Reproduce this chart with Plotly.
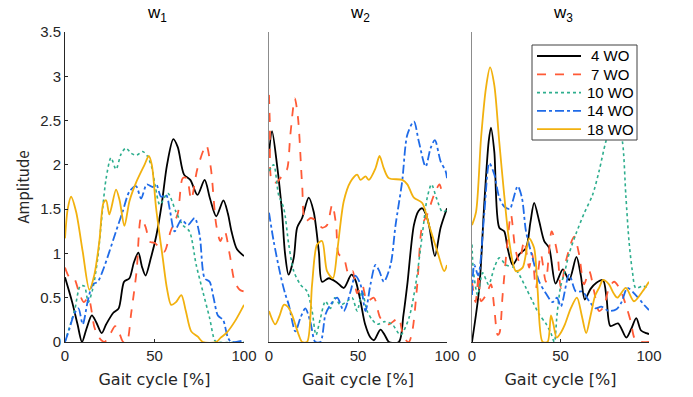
import plotly.graph_objects as go

# ---------------- data (x in % gait cycle, y amplitude) ----------------
SERIES = ["4 WO", "7 WO", "10 WO", "14 WO", "18 WO"]
PANEL_TITLES = ["w<sub>1</sub>", "w<sub>2</sub>", "w<sub>3</sub>"]
X_TICKS = [0, 50, 100]
Y_TICKS = [0, 0.5, 1, 1.5, 2, 2.5, 3, 3.5]

# w1
W1_4WO_X = [0, 4, 7, 9.5, 12, 15, 17.5, 20.5, 23, 27, 30, 33, 36, 38.5, 41, 43, 45, 48, 51, 54, 57, 60.5, 63, 66.5, 70, 74, 78, 81, 84.5, 88.5, 91, 93, 96, 100]
W1_4WO_Y = [0.73, 0.45, 0.2, 0, 0.15, 0.3, 0.22, 0.1, 0.2, 0.33, 0.38, 0.68, 0.72, 0.9, 1.01, 0.85, 0.75, 0.95, 1.2, 1.55, 2.0, 2.29, 2.2, 1.89, 1.83, 1.66, 1.83, 1.62, 1.42, 1.6, 1.45, 1.25, 1.05, 0.97]
W1_7WO_X = [0, 2.5, 5, 8, 10.5, 13, 16.5, 19, 22, 25, 28, 30, 32.5, 34.5, 37, 40, 42.5, 45, 47.5, 50, 53, 55.5, 59, 63, 65.8, 68, 70.5, 74, 78.9, 81.5, 84.5, 86.8, 89.2, 92, 94.8, 97.6, 100]
W1_7WO_Y = [0.84, 0.73, 0.72, 0.55, 0.45, 0.5, 0.16, 0.05, 0, 0.08, 0.18, 0.12, 0, 0, 0.33, 0.8, 1.4, 1.3, 1.13, 1.12, 1.06, 1.02, 1.25, 1.45, 1.85, 1.85, 1.61, 1.96, 2.22, 1.96, 1.32, 1.14, 1.25, 0.99, 0.68, 0.59, 0.57]
W1_10WO_X = [0, 3, 5.5, 8.5, 10.8, 13, 15.5, 18.3, 21, 23, 25.7, 28.5, 31.3, 34, 37, 40, 43.4, 46, 48.5, 50.5, 53, 57.4, 62, 65.8, 69.5, 73.3, 77, 80.8, 83.6, 85, 100]
W1_10WO_Y = [0, 0.2, 0.37, 0.63, 0.63, 0.45, 0.6, 0.95, 1.5, 1.85, 2.08, 1.95, 2.12, 2.19, 2.13, 2.11, 2.15, 2.1, 1.97, 1.75, 1.55, 1.68, 1.47, 1.32, 1.25, 0.87, 0.57, 0.27, 0.02, 0, 0]
W1_14WO_X = [0, 2.5, 5, 7.5, 9.9, 12.7, 15.5, 18.3, 21, 24.8, 28.5, 32.2, 36, 39.7, 42.5, 45.7, 49, 51, 53.7, 56.5, 58.5, 61.2, 65, 68.7, 72.4, 75.2, 78, 80.8, 83, 85.4, 88.3, 91, 93, 100]
W1_14WO_Y = [0, 0.15, 0.31, 0.38, 0.2, 0.46, 0.65, 0.68, 0.8, 1.02, 1.25, 1.47, 1.7, 1.76, 1.62, 1.78, 1.75, 1.78, 1.64, 1.66, 1.5, 1.25, 1.38, 1.32, 1.4, 1.21, 0.72, 0.68, 0.5, 0.3, 0.25, 0.05, 0, 0.02]
W1_18WO_X = [0, 1.5, 3.4, 6.2, 9.9, 13.6, 16.4, 19.2, 21.5, 23, 24.8, 28.5, 30.5, 33.2, 36, 39.7, 44.4, 46.8, 48.5, 50.9, 54.6, 57, 59.3, 62, 65, 67.5, 70.5, 74.2, 77, 84.5, 87, 90.1, 94.8, 100]
W1_18WO_Y = [1.17, 1.5, 1.64, 1.47, 1.02, 0.59, 0.76, 1.14, 1.57, 1.6, 1.44, 1.72, 1.6, 1.31, 1.59, 1.8, 2.0, 2.1, 2.0, 1.51, 0.95, 0.6, 0.42, 0.45, 0.53, 0.35, 0.12, 0.06, 0, 0, 0.05, 0.1, 0.23, 0.42]

# w2
W2_4WO_X = [0, 1.7, 4.5, 7.3, 9, 11, 13.9, 15.8, 18.6, 22.3, 25.1, 28, 29.8, 33.6, 38.3, 42, 46.3, 48.5, 51.4, 54, 57, 59, 62.6, 65, 67.4, 73, 75.5, 77.7, 81.4, 84, 86.1, 88, 89.9, 93.2, 96.4, 100]
W2_4WO_Y = [2.13, 2.38, 2.0, 1.47, 1.0, 0.76, 0.95, 1.29, 1.4, 1.63, 1.47, 1.02, 0.68, 0.72, 0.67, 0.61, 0.76, 0.7, 0.46, 0.2, 0.05, 0.02, 0.14, 0.08, 0, 0, 0.3, 0.65, 1.32, 1.48, 1.51, 1.45, 1.32, 0.97, 1.29, 1.51]
W2_7WO_X = [0, 0.5, 1.7, 4, 6.4, 8.5, 10.1, 12, 14.5, 16.3, 18.6, 20.4, 23.5, 27, 29.8, 32.6, 35.5, 37.7, 39.2, 42, 44.8, 47, 49.5, 52.3, 55.1, 58.9, 62.6, 67.3, 71, 73, 74.8, 77, 78.6, 80.5, 83.3, 86.1, 88.9, 92.7, 95.8, 97.4, 100]
W2_7WO_Y = [2.79, 2.45, 1.81, 1.8, 1.85, 1.92, 1.95, 2.34, 2.75, 2.53, 1.78, 1.36, 1.4, 1.36, 1.29, 1.32, 1.55, 1.32, 0.99, 0.95, 0.76, 0.8, 0.55, 0.65, 0.46, 0.5, 0.27, 0.2, 0.25, 0.27, 0.12, 0.02, 0, 0.12, 0.65, 1.32, 1.44, 1.66, 1.78, 1.7, 1.74]
W2_10WO_X = [0, 2.6, 5.4, 8.3, 11.1, 13.9, 17.6, 21.4, 24.2, 26.4, 28.9, 31.7, 34.5, 37, 40.1, 43.9, 46.7, 49.5, 52.3, 55.1, 58, 60.8, 65, 69.2, 73.9, 78.6, 82.4, 86.1, 88.9, 91.3, 94, 97.4, 100]
W2_10WO_Y = [1.93, 2.0, 1.66, 1.51, 1.1, 0.8, 0.65, 0.57, 0.35, 0.08, 0.27, 0.46, 0.38, 0.5, 0.42, 0.46, 0.5, 0.35, 0.57, 0.35, 0.25, 0.2, 0.23, 0.2, 0.08, 0.27, 0.65, 1.21, 1.63, 1.78, 1.63, 1.47, 1.49]
W2_14WO_X = [0, 2.6, 6.4, 9, 11.1, 14.8, 17.6, 20.4, 23.2, 26, 28.9, 31.7, 34.5, 38.3, 42, 45.8, 48.5, 51.4, 54.2, 57, 59.8, 62, 64.5, 68.3, 71.1, 74.8, 77.7, 81.4, 84.2, 88, 90.8, 93.2, 96.4, 99.2, 100]
W2_14WO_Y = [1.46, 1.14, 0.76, 0.55, 0.42, 0.12, 0.27, 0.38, 0.23, 0, 0, 0.31, 0.42, 0.5, 0.35, 0.57, 0.75, 0.65, 0.35, 0.65, 0.87, 0.8, 0.68, 0.87, 1.32, 1.81, 2.34, 2.49, 2.26, 1.98, 2.19, 2.28, 2.04, 1.93, 1.85]
W2_18WO_X = [0, 3.5, 6, 8.3, 10.5, 12.9, 16.7, 18.6, 21.4, 24.2, 27, 29.8, 32.6, 35.9, 38.3, 42, 45.8, 49.5, 51.4, 54.2, 56.1, 59.8, 62.1, 64.5, 67.3, 74.8, 77.7, 81.4, 86.1, 89.9, 94.6, 98.4, 100]
W2_18WO_Y = [0.35, 0.2, 0.3, 0.42, 0.4, 0.31, 0.08, 0, 0, 0.65, 1.1, 1.14, 0.8, 0.72, 1.02, 1.59, 1.81, 1.89, 1.83, 1.87, 1.83, 1.96, 2.1, 1.96, 1.85, 1.83, 1.78, 1.63, 1.57, 1.32, 1.02, 0.8, 0.87]

# w3
W3_4WO_X = [0, 4.1, 6.9, 9.4, 10.7, 12.6, 15.4, 18.2, 20.1, 23, 26.7, 30.5, 33, 35.1, 38, 40.8, 43.6, 47.2, 51.3, 54.9, 59, 61.5, 63.7, 67, 70.3, 74, 76, 78.2, 82.5, 87.2, 90, 92.8, 95.5, 98.5, 100]
W3_4WO_Y = [0, 0.61, 1.55, 2.26, 2.42, 2.15, 1.29, 1.25, 1.06, 0.87, 0.99, 1.06, 1.35, 1.57, 1.36, 1.14, 1.06, 0.66, 0.82, 0.7, 0.96, 0.75, 0.48, 0.6, 0.67, 0.7, 0.5, 0.18, 0.21, 0.05, 0.15, 0.27, 0.13, 0.1, 0.09]
W3_7WO_X = [0, 2, 3.8, 5.1, 7.9, 10.7, 12.5, 14.5, 15.5, 17.3, 20.1, 22, 24.4, 26.7, 29.5, 32.3, 34, 36.1, 38.9, 41.7, 45, 48.3, 50.2, 53, 57.7, 60.5, 63.3, 66.2, 69, 71.8, 74.5, 77.4, 80.3, 83.5, 86.9, 89.7, 92.5, 100]
W3_7WO_Y = [0.68, 0.45, 0.76, 0.46, 0.53, 0.65, 0.4, 0.08, 0.1, 0.53, 1.14, 1.44, 1.06, 0.91, 1.14, 0.84, 1.0, 0.61, 0.99, 0.68, 1.25, 0.99, 0.61, 0.91, 1.19, 0.99, 0.65, 0.8, 0.57, 0.35, 0.4, 0.61, 0.68, 0.6, 0.42, 0.23, 0.02, 0]
W3_10WO_X = [0, 0.8, 3.2, 6, 9.4, 12.6, 15.4, 19.2, 23.9, 26.7, 30.5, 34.2, 38, 41.7, 44.6, 46.5, 48, 50, 52.5, 54.9, 58.7, 63.3, 68.1, 71.8, 75.6, 79, 82, 85, 86.9, 88.7, 90.6, 92.5, 96.3, 100]
W3_10WO_Y = [1.1, 0.8, 0.53, 0.78, 0.65, 0.84, 0.95, 0.87, 0.84, 0.76, 0.61, 0.46, 0.31, 0.21, 0.1, 0, 0.3, 0.62, 0.8, 1.0, 1.22, 1.45, 1.66, 1.93, 2.26, 2.45, 2.5, 2.26, 1.66, 1.14, 0.8, 0.61, 0.63, 0.61]
W3_14WO_X = [0, 1.3, 3.5, 6.9, 9.8, 12.6, 15.4, 18.2, 21.4, 23, 25.8, 28.2, 30.5, 34.2, 38, 41.7, 45.5, 48, 50.2, 54.9, 58.7, 62.4, 66.2, 69.9, 73, 77.4, 81.6, 84.5, 87.8, 92.5, 97.2, 100]
W3_14WO_Y = [0.53, 0.87, 0.75, 1.44, 2.02, 1.89, 1.63, 1.53, 1.5, 1.59, 1.76, 1.63, 1.25, 0.95, 0.68, 0.55, 0.45, 0.5, 0.4, 0.76, 0.57, 0.57, 0.46, 0.38, 0.4, 0.35, 0.37, 0.45, 0.61, 0.53, 0.42, 0.36]
W3_18WO_X = [0, 2.3, 5.1, 7.9, 10.2, 12.6, 15.4, 18.2, 21, 24.8, 28.6, 32.3, 35.1, 37, 39.9, 42.7, 44.6, 46, 47.8, 50, 52.5, 55.8, 59.3, 62, 64.5, 67, 69.5, 72, 74, 77.4, 80, 82.1, 86.9, 91.5, 96.3, 100]
W3_18WO_Y = [1.32, 1.47, 2.3, 2.87, 3.1, 2.9, 2.26, 1.66, 1.14, 0.8, 0.84, 1.17, 1.06, 0.61, 0, 0, 0.3, 0.2, 0.05, 0.1, 0.2, 0.38, 0.5, 0.3, 0.1, 0.3, 0.52, 0.62, 0.7, 0.65, 0.55, 0.5, 0.61, 0.46, 0.57, 0.68]

PANELS = [
    [(W1_4WO_X, W1_4WO_Y), (W1_7WO_X, W1_7WO_Y), (W1_10WO_X, W1_10WO_Y), (W1_14WO_X, W1_14WO_Y), (W1_18WO_X, W1_18WO_Y)],
    [(W2_4WO_X, W2_4WO_Y), (W2_7WO_X, W2_7WO_Y), (W2_10WO_X, W2_10WO_Y), (W2_14WO_X, W2_14WO_Y), (W2_18WO_X, W2_18WO_Y)],
    [(W3_4WO_X, W3_4WO_Y), (W3_7WO_X, W3_7WO_Y), (W3_10WO_X, W3_10WO_Y), (W3_14WO_X, W3_14WO_Y), (W3_18WO_X, W3_18WO_Y)],
]

# ---------------- styles ----------------
COLORS = ["#000000", "#FF5A36", "#2EAE8E", "#1F6BE8", "#F2B10E"]
DASHES = ["solid", "dash", "dot", "dashdot", "solid"]
WIDTHS = [1.8, 1.8, 1.6, 1.8, 1.8]
FONT = "Liberation Sans, Arial, sans-serif"
JFONT = "Noto Sans CJK JP, Liberation Sans, sans-serif"
XTFONT = "DejaVu Sans, Liberation Sans, sans-serif"

W, H = 693, 397
ML, MR, MT, MB = 65, 44, 32, 55
PW = W - ML - MR
PH = H - MT - MB
DOMAINS = [[0.0, (244 - ML) / PW], [(269 - ML) / PW, (447 - ML) / PW], [(472 - ML) / PW, 1.0]]


def px_x(px):
    return (px - ML) / PW


def px_y(py):
    return (H - MB - py) / PH


fig = go.Figure()
for p, panel in enumerate(PANELS):
    xa = "x" if p == 0 else f"x{p+1}"
    ya = "y" if p == 0 else f"y{p+1}"
    for s, (xs, ys) in enumerate(panel):
        fig.add_trace(go.Scatter(
            x=xs, y=ys, mode="lines", name=SERIES[s], showlegend=False,
            line=dict(color=COLORS[s], dash=DASHES[s], width=WIDTHS[s], shape="spline", smoothing=0.8),
            xaxis=xa, yaxis=ya, hoverinfo="skip",
        ))

shapes = []
annotations = []

# legend box (drawn manually for MATLAB-like compact row spacing)
LEG_L, LEG_R, LEG_T, LEG_B = 532, 637, 45, 140
shapes.append(dict(type="rect", xref="paper", yref="paper", layer="above",
                   x0=px_x(LEG_L), x1=px_x(LEG_R), y0=px_y(LEG_B), y1=px_y(LEG_T),
                   fillcolor="white", line=dict(color="#404040", width=1)))
for s, name in enumerate(SERIES):
    cy = 56 + s * 18.3
    shapes.append(dict(type="line", xref="paper", yref="paper", layer="above",
                       x0=px_x(537), x1=px_x(581), y0=px_y(cy), y1=px_y(cy),
                       line=dict(color=COLORS[s], dash=DASHES[s], width=WIDTHS[s])))
    annotations.append(dict(text=name, xref="paper", yref="paper", x=px_x(610), y=px_y(cy),
                            xanchor="center", yanchor="middle", showarrow=False,
                            font=dict(family=FONT, size=15, color="#000000")))

layout = dict(
    width=W, height=H,
    margin=dict(l=ML, r=MR, t=MT, b=MB),
    paper_bgcolor="white", plot_bgcolor="white",
    font=dict(family=FONT, size=15, color="#262626"),
    showlegend=False,
)
for p in range(3):
    xk = "xaxis" if p == 0 else f"xaxis{p+1}"
    yk = "yaxis" if p == 0 else f"yaxis{p+1}"
    layout[xk] = dict(
        domain=DOMAINS[p], range=[0, 100], anchor="y" if p == 0 else f"y{p+1}",
        tickvals=X_TICKS, ticks="inside", ticklen=3, tickcolor="#262626",
        showline=True, linecolor="#262626", linewidth=1, showgrid=False, zeroline=False,
        tickfont=dict(family=FONT, size=15, color="#262626"),
        title=dict(text="Gait cycle [%]", font=dict(family=XTFONT, size=16, color="#262626"), standoff=10),
    )
    if p == 0:
        layout[yk] = dict(
            domain=[0, 1], range=[0, 3.5], anchor="x",
            tickvals=Y_TICKS, ticks="inside", ticklen=3, tickcolor="#262626",
            showline=True, linecolor="#262626", linewidth=1, showgrid=False, zeroline=False,
            tickfont=dict(family=FONT, size=15, color="#262626"),
            title=dict(text="Amplitude", font=dict(family=JFONT, size=15, color="#262626"), standoff=6),
        )
    else:
        layout[yk] = dict(
            domain=[0, 1], range=[0, 3.5], anchor=f"x{p+1}",
            showticklabels=False, ticks="", showline=True, linecolor="#8c8c8c", linewidth=1,
            showgrid=False, zeroline=False,
        )
    annotations.append(dict(
        text=PANEL_TITLES[p], xref="paper", yref="paper",
        x=(DOMAINS[p][0] + DOMAINS[p][1]) / 2 + 2 / PW, y=1.0, yshift=5,
        xanchor="center", yanchor="bottom", showarrow=False,
        font=dict(family=FONT, size=17, color="#000000"),
    ))

layout["shapes"] = shapes
layout["annotations"] = annotations
fig.update_layout(**layout)
fig.write_html("out.html")
